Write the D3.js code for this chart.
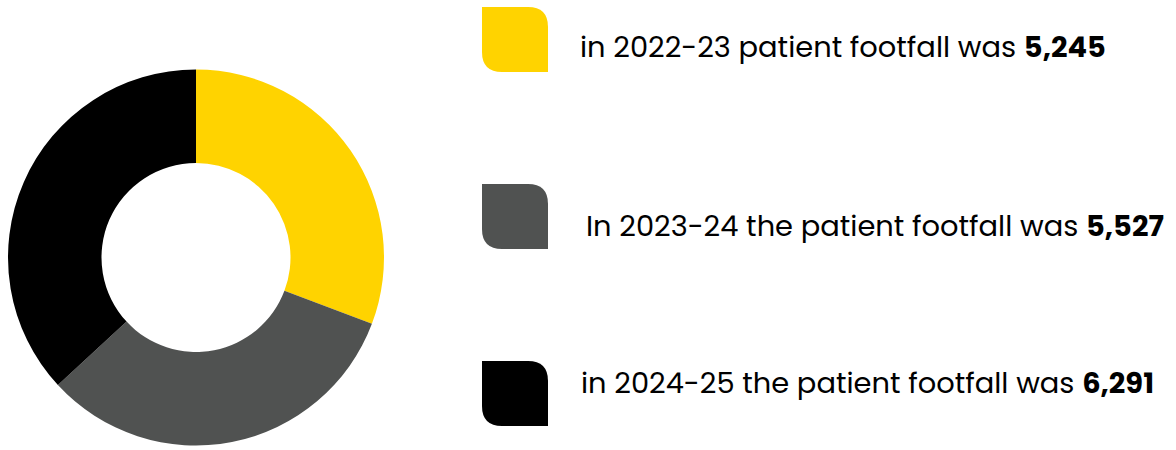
<!DOCTYPE html>
<html>
<head>
<meta charset="utf-8">
<script src="https://cdn.jsdelivr.net/npm/d3@7"></script>
<style>
  html, body { margin: 0; padding: 0; background: #fff; }
  svg { display: block; }
  text { font-family: Poppins, Inter, "Noto Sans", sans-serif; fill: #000; }
</style>
</head>
<body>
<svg id="chart" width="1176" height="450"></svg>
<script>
// ---- data ----
const categories = ["2022-23", "2023-24", "2024-25"];
const values = [5245, 5527, 6291];
const labelPrefixes = [
  "in 2022-23 patient footfall was ",
  "In 2023-24 the patient footfall was ",
  "in 2024-25 the patient footfall was "
];
const colors = ["#FFD300", "#505251", "#000000"];

// ---- layout ----
const W = 1176, H = 450;
const cx = 196, cy = 257.5, rOuter = 188, rInner = 94.5;
const svg = d3.select("#chart");

const pie = d3.pie().sort(null).value(d => d)(values);
const arc = d3.arc().innerRadius(rInner).outerRadius(rOuter);

svg.append("g")
  .attr("transform", `translate(${cx},${cy})`)
  .selectAll("path")
  .data(pie)
  .join("path")
  .attr("d", arc)
  .attr("fill", (d, i) => colors[i]);

// legend
const sq = 66, rad = 20;
const legX = 482;
const squareTops = [7, 184, 361];
const textX = [580, 586, 581];
const baselines = [57, 236, 393];
const fmt = d3.format(",");

function leafPath(x, y, w, h, r) {
  return `M${x},${y} H${x + w - r} Q${x + w},${y} ${x + w},${y + r} V${y + h} H${x + r} Q${x},${y + h} ${x},${y + h - r} Z`;
}

const leg = svg.append("g");
leg.selectAll("path")
  .data(categories)
  .join("path")
  .attr("d", (d, i) => leafPath(legX, squareTops[i], sq, sq - 1, rad))
  .attr("fill", (d, i) => colors[i]);

const texts = leg.selectAll("text.lab")
  .data(categories)
  .join("text")
  .attr("class", "lab")
  .attr("x", (d, i) => textX[i])
  .attr("y", (d, i) => baselines[i])
  .attr("font-size", 24);
texts.append("tspan").text((d, i) => labelPrefixes[i]).attr("font-weight", 400);
texts.append("tspan").text((d, i) => fmt(values[i])).attr("font-weight", 700);

// fit font size so first label spans reference width
const target = 1106 - 580;
const w0 = texts.nodes()[0].getComputedTextLength();
const fs = 24 * target / w0;
texts.attr("font-size", fs);
</script>
</body>
</html>
